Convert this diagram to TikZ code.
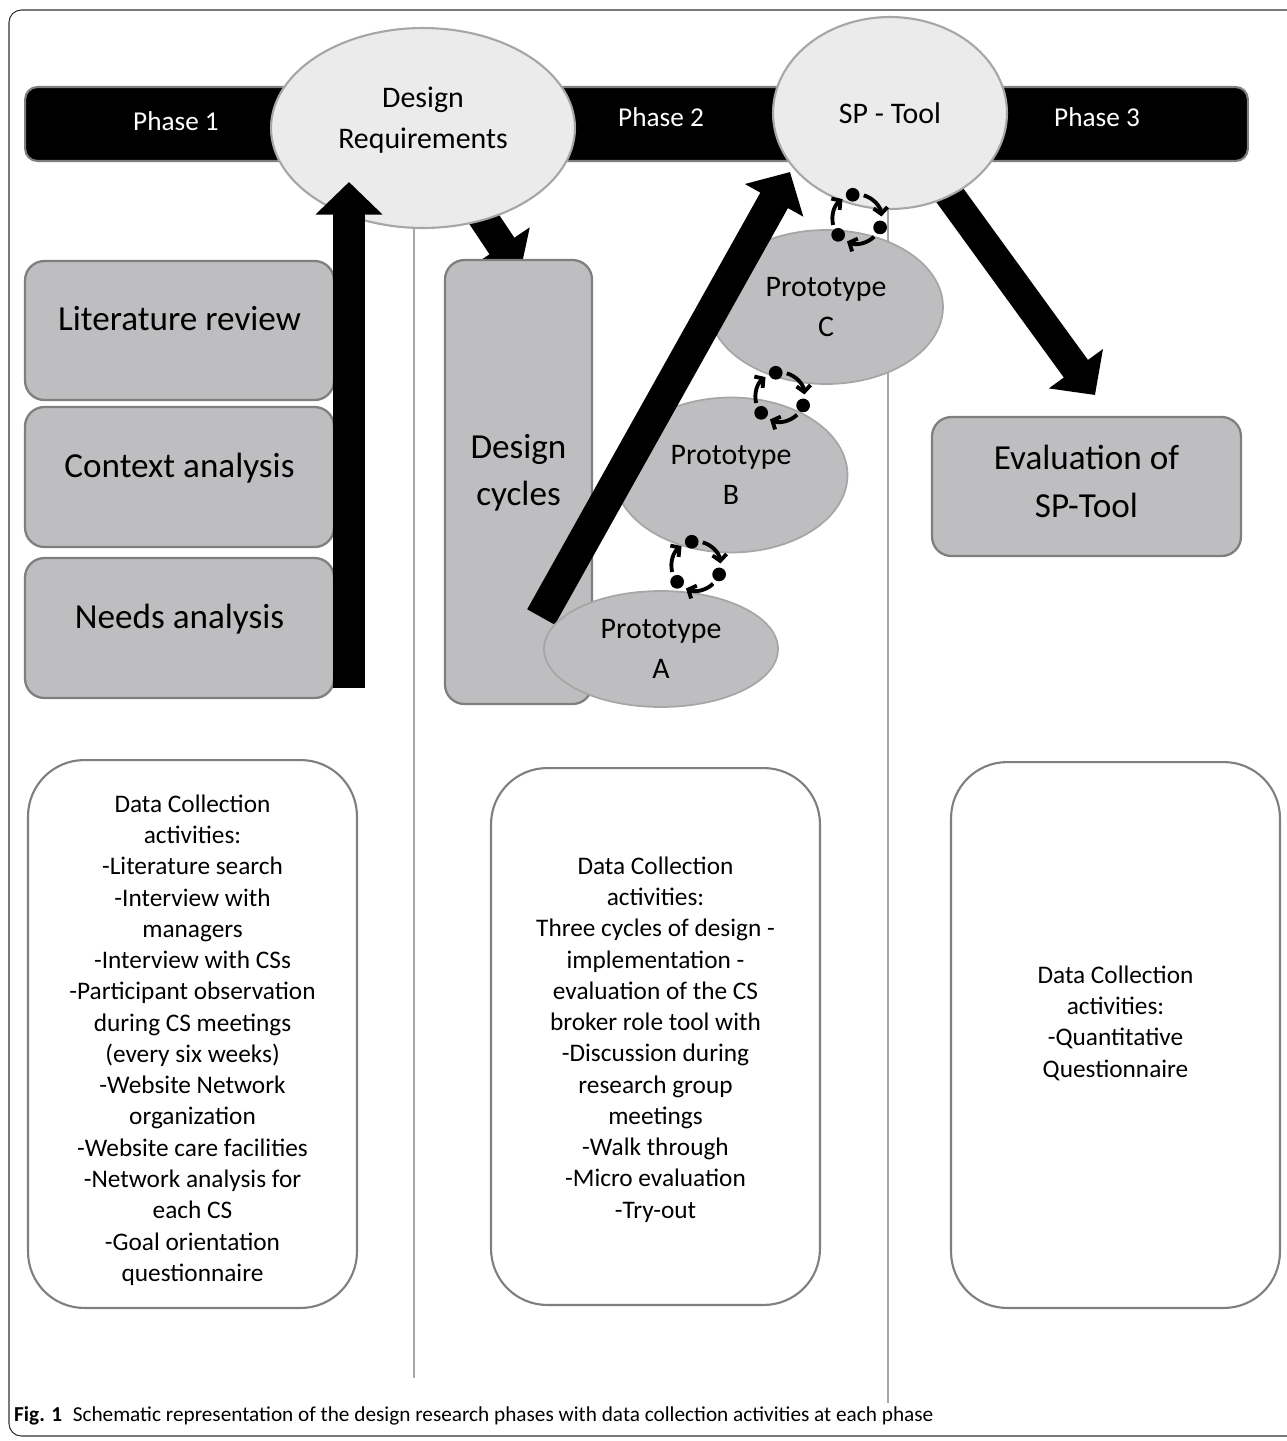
\documentclass[tikz,border=0pt]{standalone}
\usepackage{fontspec}
\setmainfont{Carlito}
\usetikzlibrary{positioning,shapes,arrows.meta}

\definecolor{boxgray}{HTML}{BEBEC0}
\definecolor{edgegray}{HTML}{7F7F7F}
\definecolor{ovalgray}{HTML}{EBEBEB}
\definecolor{linegray}{HTML}{A6A6A6}

\tikzset{
  phasebox/.style={draw=edgegray, line width=1.2pt, fill=black, rounded corners=7pt},
  phasetext/.style={text=white, font=\fontsize{15.5}{18}\selectfont},
  milestone/.style={ellipse, draw=linegray, line width=1.2pt, fill=ovalgray, inner sep=0pt},
  activity/.style={draw=edgegray, line width=1.3pt, fill=boxgray, rounded corners=11pt, align=center, font=\fontsize{20}{27}\selectfont},
  prototype/.style={ellipse, draw=linegray, line width=1pt, fill=boxgray, inner sep=0pt, align=center, font=\fontsize{17}{22.7}\selectfont},
  datacol/.style={draw=edgegray, line width=1.2pt, fill=white, rounded corners=32pt, minimum width=6.58cm},
  datatext/.style={align=center, font=\fontsize{14.4}{17.8}\selectfont},
  blockarrow/.style={line width=17pt, -{Triangle[width=37pt,length=18.5pt]}},
  cyclearc/.style={line width=2.2pt, -{Straight Barb[length=3.5pt,width=8pt]}}
}

% little loop of three dots between two prototypes
\newcommand{\cycleicon}[2]{%
  \begin{scope}[shift={(#1,#2)}]
    \foreach \a in {100,-20,220}
      \fill (\a:14pt) circle (3.9pt);
    \foreach \a in {100,-20,220}
      \draw[cyclearc] (\a-26:14pt) arc[start angle=\a-26, end angle=\a-94, radius=14pt];
  \end{scope}}

\begin{document}
\begin{tikzpicture}[x=0.02cm, y=-0.02cm]
  \useasboundingbox (0,0) rectangle (1287,1441);
  \draw[black!80, line width=0.6pt, rounded corners=7pt] (9,10) rectangle (1300,1436);

  % phase dividers
  \draw[linegray, line width=0.6pt] (414,200) -- (414,1378);
  \draw[linegray, line width=0.6pt] (888,180) -- (888,1403);

  % phase bar
  \node[phasebox, minimum width=24.46cm, minimum height=1.48cm] (bar) at (636.5,124) {};
  \node[phasetext] (ph1) at (176,121) {Phase 1};
  \node[phasetext] (ph2) at (661,117) {Phase 2};
  \node[phasetext] (ph3) at (1097,117) {Phase 3};

  % outputs of the phases
  \coordinate (dreqc) at (423,128);
  \coordinate (spc) at (890,113);
  \coordinate (cyctip) at (520,273);
  \coordinate (evaltip) at (1095,395);
  \draw[blockarrow] (dreqc) -- (cyctip);
  \draw[blockarrow] (spc) -- (evaltip);
  \node[milestone, minimum width=6.08cm, minimum height=4cm] (dreq) at (dreqc) {};
  \node[milestone, minimum width=4.68cm, minimum height=3.84cm] (sptool) at (spc) {};
  \node[align=center, font=\fontsize{17}{23.2}\selectfont] (dreqtxt) at (423,120) {Design\\Requirements};
  \node[font=\fontsize{17}{20}\selectfont] (sptxt) at (890,113) {SP - Tool};

  % phase 1
  \node[activity, text height=14pt, text depth=14pt, minimum width=6.18cm, minimum height=2.78cm] (litrev) at (179.5,330.5) {Literature review};
  \node[activity, text height=14pt, text depth=14pt, minimum width=6.18cm, minimum height=2.8cm] (context) at (179.5,477) {Context analysis};
  \node[activity, text height=14pt, text depth=14pt, minimum width=6.18cm, minimum height=2.8cm] (needs) at (179.5,628) {Needs analysis};
  \coordinate (upstart) at (349,688);
  \coordinate (uptip) at (349,182);
  \draw[blockarrow, line width=18pt] (upstart) -- (uptip);

  % phase 2
  \node[activity, minimum width=2.94cm, minimum height=8.88cm] (cycles) at (518.5,482) {};
  \node[align=center, font=\fontsize{20}{27}\selectfont] (cyctxt) at (518.5,473) {Design\\cycles};
  \node[prototype, minimum width=4.68cm, minimum height=3.08cm] (protoC) at (826,307) {Prototype\\C};
  \node[prototype, minimum width=4.66cm, minimum height=3.1cm] (protoB) at (731,475) {Prototype\\B};
  \coordinate (dcstart) at (541,617);
  \coordinate (sptip) at (790,172);
  \draw[blockarrow, line width=18pt] (dcstart) -- (sptip);
  \node[prototype, minimum width=4.68cm, minimum height=2.32cm] (protoA) at (661,649) {Prototype\\A};
  \cycleicon{857}{219}
  \cycleicon{780}{397}
  \cycleicon{696}{566}

  % phase 3
  \node[activity, text depth=6pt, minimum width=6.18cm, minimum height=2.78cm] (evalsp) at (1086.5,486.5) {Evaluation of\\SP-Tool};

  % data collection
  \node[datacol, minimum height=10.96cm] (data1) at (192.5,1034) {};
  \node[datacol, minimum height=10.74cm] (data2) at (655.5,1036.5) {};
  \node[datacol, minimum height=10.92cm] (data3) at (1115.5,1035) {};
  \node[datatext] (data1txt) at (192.5,1040) {Data Collection\\activities:\\-Literature search\\-Interview with\\managers\\-Interview with CSs\\-Participant observation\\during CS meetings\\(every six weeks)\\-Website Network\\organization\\-Website care facilities\\-Network analysis for\\each CS\\-Goal orientation\\questionnaire};
  \node[datatext] (data2txt) at (655.5,1039.5) {Data Collection\\activities:\\Three cycles of design -\\implementation -\\evaluation of the CS\\broker role tool with\\-Discussion during\\research group\\meetings\\-Walk through\\-Micro evaluation\\-Try-out};
  \node[datatext] (data3txt) at (1115.5,1023) {Data Collection\\activities:\\-Quantitative\\Questionnaire};

  \node[anchor=west, font=\fontsize{12.1}{14}\selectfont] (caption) at (8,1416) {\textbf{Fig. 1}\enspace Schematic representation of the design research phases with data collection activities at each phase};
\end{tikzpicture}
\end{document}
